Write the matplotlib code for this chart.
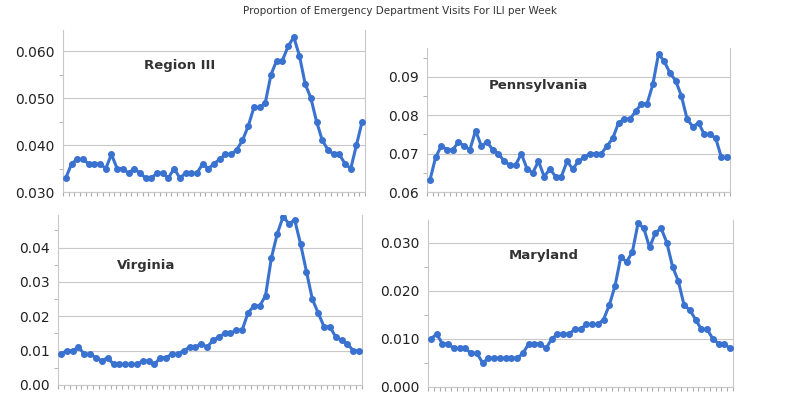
import matplotlib.pyplot as plt
from matplotlib.ticker import MultipleLocator, FormatStrFormatter

region3 = [0.033, 0.036, 0.037, 0.037, 0.036, 0.036, 0.036, 0.035, 0.038, 0.035, 0.035, 0.034, 0.035,
           0.034, 0.033, 0.033, 0.034, 0.034, 0.033, 0.035, 0.033, 0.034, 0.034, 0.034, 0.036, 0.035,
           0.036, 0.037, 0.038, 0.038, 0.039, 0.041, 0.044, 0.048, 0.048, 0.049, 0.055, 0.058, 0.058,
           0.061, 0.063, 0.059, 0.053, 0.050, 0.045, 0.041, 0.039, 0.038, 0.038, 0.036, 0.035, 0.040, 0.045]
pennsylvania = [0.063, 0.069, 0.072, 0.071, 0.071, 0.073, 0.072, 0.071, 0.076, 0.072, 0.073, 0.071, 0.070,
                0.068, 0.067, 0.067, 0.070, 0.066, 0.065, 0.068, 0.064, 0.066, 0.064, 0.064, 0.068, 0.066,
                0.068, 0.069, 0.070, 0.070, 0.070, 0.072, 0.074, 0.078, 0.079, 0.079, 0.081, 0.083, 0.083,
                0.088, 0.096, 0.094, 0.091, 0.089, 0.085, 0.079, 0.077, 0.078, 0.075, 0.075, 0.074, 0.069, 0.069]
virginia = [0.009, 0.010, 0.010, 0.011, 0.009, 0.009, 0.008, 0.007, 0.008, 0.006, 0.006, 0.006, 0.006,
            0.006, 0.007, 0.007, 0.006, 0.008, 0.008, 0.009, 0.009, 0.010, 0.011, 0.011, 0.012, 0.011,
            0.013, 0.014, 0.015, 0.015, 0.016, 0.016, 0.021, 0.023, 0.023, 0.026, 0.037, 0.044, 0.049,
            0.047, 0.048, 0.041, 0.033, 0.025, 0.021, 0.017, 0.017, 0.014, 0.013, 0.012, 0.010, 0.010]
maryland = [0.010, 0.011, 0.009, 0.009, 0.008, 0.008, 0.008, 0.007, 0.007, 0.005, 0.006, 0.006, 0.006,
            0.006, 0.006, 0.006, 0.007, 0.009, 0.009, 0.009, 0.008, 0.010, 0.011, 0.011, 0.011, 0.012,
            0.012, 0.013, 0.013, 0.013, 0.014, 0.017, 0.021, 0.027, 0.026, 0.028, 0.034, 0.033, 0.029,
            0.032, 0.033, 0.030, 0.025, 0.022, 0.017, 0.016, 0.014, 0.012, 0.012, 0.010, 0.009, 0.009, 0.008]

W, H = 800, 400
fig = plt.figure(figsize=(8, 4), dpi=100)
fig.text(0.5, 0.985, "Proportion of Emergency Department Visits For ILI per Week",
         ha="center", va="top", fontsize=7.5, color="#333333", family="DejaVu Sans")

# name, data, box (left, top, right, bottom px), ylim, major step, fmt, label pos (px)
panels = [
    ("Region III", region3, (63, 30, 365, 192), (0.030, 0.0645), 0.010, "%.3f", (180, 66)),
    ("Pennsylvania", pennsylvania, (427, 48, 730, 192), (0.060, 0.0975), 0.010, "%.2f", (538, 85)),
    ("Virginia", virginia, (58, 215, 362, 385), (0.0, 0.0495), 0.010, "%.2f", (146, 265)),
    ("Maryland", maryland, (428, 220, 733, 387), (0.0, 0.0347), 0.010, "%.3f", (544, 255)),
]

blue = "#3a72d0"
for name, data, (l, t, r, b), ylim, step, fmt, (lx, ly) in panels:
    ax = fig.add_axes([l / W, 1 - b / H, (r - l) / W, (b - t) / H])
    x = range(len(data))
    ax.plot(x, data, color=blue, lw=2.2, marker="o", ms=4, zorder=3)
    ax.set_ylim(*ylim)
    ax.set_xlim(-0.5, len(data) - 0.5)
    ax.yaxis.set_major_locator(MultipleLocator(step))
    ax.yaxis.set_minor_locator(MultipleLocator(step / 2))
    ax.yaxis.set_major_formatter(FormatStrFormatter(fmt))
    ax.grid(axis="y", which="major", color="#c8c8c8", lw=0.8)
    ax.set_xticks([i + 0.5 for i in range(-1, len(data))], labels=[])
    ax.tick_params(axis="x", length=3, color="#aaaaaa")
    ax.tick_params(axis="y", which="major", length=0, labelsize=10, labelcolor="#222222", pad=6)
    ax.tick_params(axis="y", which="minor", length=3, color="#aaaaaa")
    ax.spines["top"].set_visible(False)
    for s in ("left", "right", "bottom"):
        ax.spines[s].set_color("#c8c8c8")
    fig.text(lx / W, 1 - ly / H, name, ha="center", va="center",
             fontsize=9.5, fontweight="bold", color="#333333")

fig.savefig("out.png", dpi=100, facecolor="white")
